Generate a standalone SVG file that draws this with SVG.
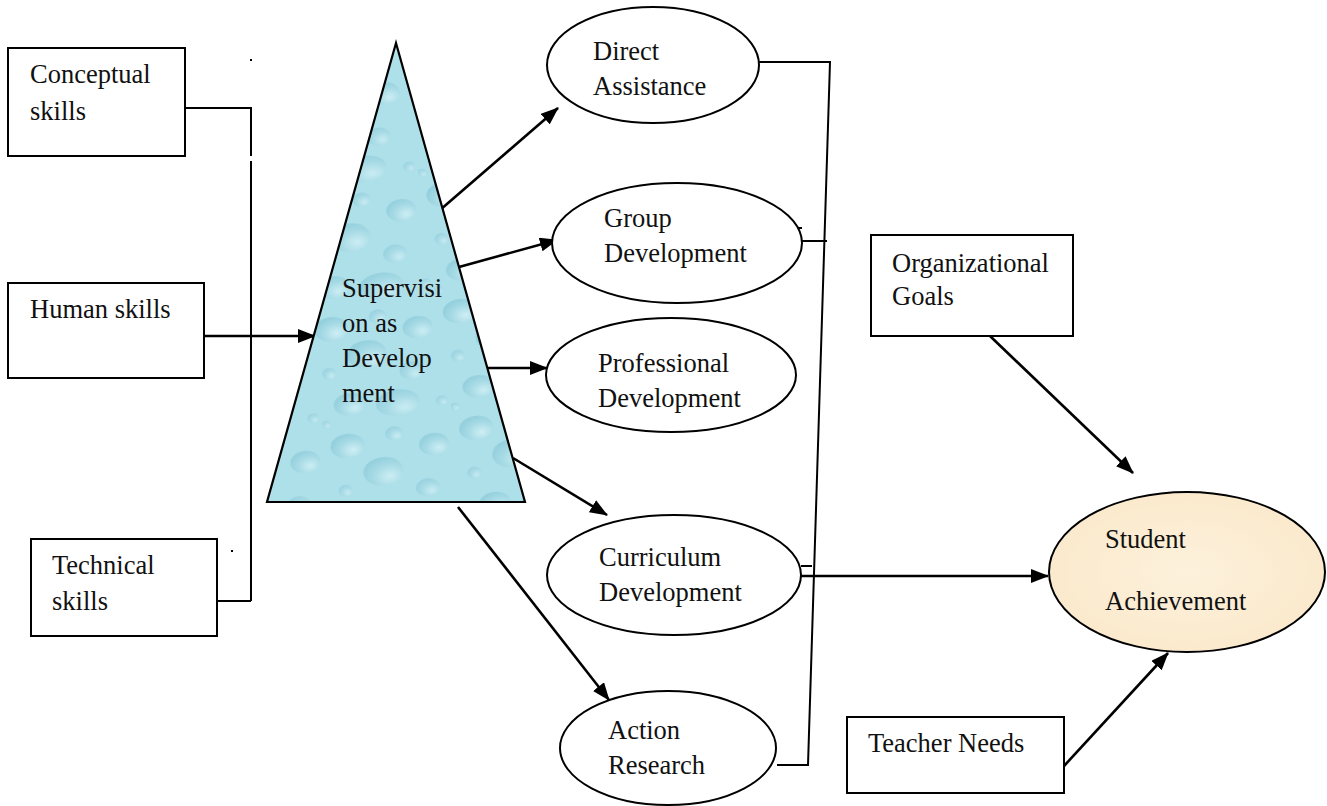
<svg xmlns="http://www.w3.org/2000/svg" width="1327" height="806" viewBox="0 0 1327 806">
<defs>
<style>
.box{fill:#fff;stroke:#000;stroke-width:2}
.ell{fill:#fff;stroke:#000;stroke-width:2}
.t{font-family:"Liberation Serif","Times New Roman",serif;font-size:26.5px;fill:#111}
.c{fill:none;stroke:#000;stroke-width:2}
.a{fill:none;stroke:#000;stroke-width:2.6;marker-end:url(#ah)}
.d{fill:url(#drop)}
</style>
<marker id="ah" viewBox="0 0 18 14" refX="17" refY="7" markerWidth="18" markerHeight="14" markerUnits="userSpaceOnUse" orient="auto">
<path d="M0,0 L18,7 L0,14 z" fill="#000"/>
</marker>
<radialGradient id="drop" cx="0.65" cy="0.7" r="0.75">
<stop offset="0" stop-color="#d9f3f8"/>
<stop offset="0.55" stop-color="#a3d8e3"/>
<stop offset="1" stop-color="#86c7d6"/>
</radialGradient>
<pattern id="water" width="130" height="118" patternUnits="userSpaceOnUse" patternTransform="rotate(-8)">
<rect width="130" height="118" fill="#aee0ea"/>
<ellipse class="d" cx="22" cy="18" rx="17" ry="12" opacity="0.75"/>
<ellipse class="d" cx="70" cy="12" rx="9" ry="7" opacity="0.6"/>
<ellipse class="d" cx="108" cy="28" rx="15" ry="11" opacity="0.7"/>
<ellipse class="d" cx="54" cy="48" rx="20" ry="14" opacity="0.7"/>
<ellipse class="d" cx="14" cy="62" rx="7" ry="6" opacity="0.55"/>
<ellipse class="d" cx="96" cy="70" rx="12" ry="9" opacity="0.6"/>
<ellipse class="d" cx="30" cy="95" rx="16" ry="11" opacity="0.7"/>
<ellipse class="d" cx="78" cy="100" rx="22" ry="13" opacity="0.65"/>
<ellipse class="d" cx="122" cy="104" rx="6" ry="5" opacity="0.5"/>
<ellipse class="d" cx="4" cy="112" rx="5" ry="4" opacity="0.5"/>
</pattern>
<radialGradient id="cream" cx="0.5" cy="0.5" r="0.6">
<stop offset="0" stop-color="#fdf1dc"/>
<stop offset="1" stop-color="#fae8c9"/>
</radialGradient>
</defs>
<rect width="1327" height="806" fill="#fff"/>

<g id="connectors">
<polyline class="c" points="185,108 251,108 251,156"/>
<line class="c" x1="251" y1="161" x2="251" y2="601"/>
<line class="c" x1="251" y1="601" x2="217" y2="601"/>
<rect x="250" y="59" width="2" height="2" fill="#000"/>
<rect x="231" y="550" width="2" height="2" fill="#000"/>
<line class="a" x1="204" y1="336" x2="315" y2="336"/>
<line class="a" x1="440" y1="210" x2="558" y2="108"/>
<line class="a" x1="459" y1="267" x2="557" y2="240"/>
<line class="a" x1="488" y1="368" x2="547" y2="368"/>
<line class="a" x1="513" y1="458" x2="607" y2="515"/>
<line class="a" x1="458" y1="507" x2="609" y2="700"/>
<polyline class="c" points="759,62 830,62 808,765 777,765"/>
<line class="c" x1="802" y1="241" x2="827" y2="241"/>
<line class="c" x1="794" y1="228" x2="802" y2="228"/>
<line class="c" x1="801" y1="566" x2="812" y2="566"/>
<line class="a" x1="795" y1="576" x2="1048" y2="576"/>
<line class="a" x1="990" y1="336" x2="1133" y2="473"/>
<line class="a" x1="1064" y1="766" x2="1168" y2="653"/>
</g>

<g id="conceptual">
<rect class="box" x="8" y="48" width="177" height="108"/>
<text class="t" x="30" y="83">Conceptual</text>
<text class="t" x="30" y="120">skills</text>
</g>
<g id="human">
<rect class="box" x="8" y="283" width="196" height="95"/>
<text class="t" x="30" y="318">Human skills</text>
</g>
<g id="technical">
<rect class="box" x="31" y="539" width="186" height="97"/>
<text class="t" x="52" y="574">Technical</text>
<text class="t" x="52" y="610">skills</text>
</g>

<g id="supervision">
<polygon points="396,43 267,502 525,502" fill="url(#water)" stroke="#000" stroke-width="2.2"/>
<text class="t" x="342" y="297">Supervisi</text>
<text class="t" x="342" y="332">on as</text>
<text class="t" x="342" y="367">Develop</text>
<text class="t" x="342" y="402">ment</text>
</g>

<g id="direct">
<ellipse class="ell" cx="653" cy="65" rx="106" ry="58"/>
<text class="t" x="593" y="60">Direct</text>
<text class="t" x="593" y="95">Assistance</text>
</g>
<g id="group">
<ellipse class="ell" cx="677" cy="243" rx="125" ry="60"/>
<text class="t" x="604" y="227">Group</text>
<text class="t" x="604" y="262">Development</text>
</g>
<g id="professional">
<ellipse class="ell" cx="671" cy="375" rx="125" ry="57"/>
<text class="t" x="598" y="372">Professional</text>
<text class="t" x="598" y="407">Development</text>
</g>
<g id="curriculum">
<ellipse class="ell" cx="674" cy="575" rx="127" ry="60"/>
<text class="t" x="599" y="566">Curriculum</text>
<text class="t" x="599" y="601">Development</text>
</g>
<g id="action">
<ellipse class="ell" cx="668" cy="748" rx="108" ry="57"/>
<text class="t" x="608" y="739">Action</text>
<text class="t" x="608" y="774">Research</text>
</g>

<g id="organizational">
<rect class="box" x="871" y="235" width="202" height="101"/>
<text class="t" x="892" y="272">Organizational</text>
<text class="t" x="892" y="305">Goals</text>
</g>
<g id="student">
<ellipse cx="1187" cy="572" rx="138" ry="80" fill="url(#cream)" stroke="#000" stroke-width="2"/>
<text class="t" x="1105" y="548">Student</text>
<text class="t" x="1105" y="610">Achievement</text>
</g>
<g id="teacher">
<rect class="box" x="847" y="717" width="217" height="76"/>
<text class="t" x="868" y="752">Teacher Needs</text>
</g>
</svg>
